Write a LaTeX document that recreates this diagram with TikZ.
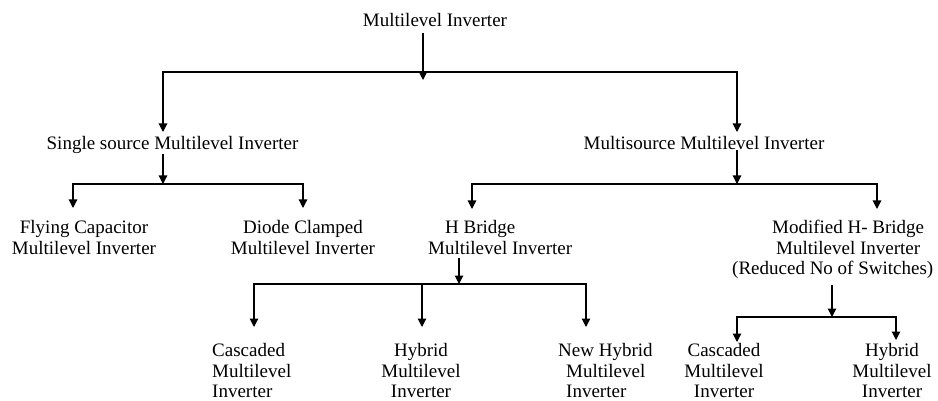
\documentclass[tikz,border=0pt]{standalone}
\usepackage{fontspec}
\setmainfont{Liberation Serif}
\usetikzlibrary{arrows.meta}
\begin{document}
\begin{tikzpicture}[x=1pt,y=-1pt,
  lbl/.style={inner sep=0pt, font=\fontsize{19}{20.7}\selectfont},
  ln/.style={line width=1.2pt},
  bar/.style={ln,line cap=rect},
  arr/.style={ln,-{Triangle[width=8.5pt,length=8.5pt]}}]
\useasboundingbox (0,0) rectangle (938,401);

% labels
\node[lbl,anchor=north] (top) at (435,13) {Multilevel Inverter};
\node[lbl,anchor=north] (ss) at (172.5,136) {Single source Multilevel Inverter};
\node[lbl,anchor=north] (ms) at (704,136) {Multisource Multilevel Inverter};
\node[lbl,anchor=north,align=center] (fc) at (84,220) {Flying Capacitor\\Multilevel Inverter};
\node[lbl,anchor=north,align=center] (dc) at (303,220) {Diode Clamped\\Multilevel Inverter};
\node[lbl,anchor=north west,align=left] (hb) at (428,220) {\hspace*{17pt}H Bridge\\Multilevel Inverter};
\node[lbl,anchor=north west,align=left] (mh) at (732,220) {\hspace*{40pt}Modified H- Bridge\\\hspace*{44pt}Multilevel Inverter\\(Reduced No of Switches)};
\node[lbl,anchor=north west,align=left] (c1) at (212,343) {Cascaded\\Multilevel\\Inverter};
\node[lbl,anchor=north,align=center] (h1) at (421,343) {Hybrid\\Multilevel\\Inverter};
\node[lbl,anchor=north west,align=left] (nh) at (558,343) {New Hybrid\\\hspace*{8pt}Multilevel\\\hspace*{8pt}Inverter};
\node[lbl,anchor=north,align=center] (c2) at (724,343) {Cascaded\\Multilevel\\Inverter};
\node[lbl,anchor=north,align=center] (h2) at (892,343) {Hybrid\\Multilevel\\Inverter};

% junction points
\coordinate (j0) at (423,80);
\coordinate (a1l) at (163,72); \coordinate (a1r) at (737,72);
\coordinate (b1) at (163,184); \coordinate (b1l) at (73,184); \coordinate (b1r) at (303,184);
\coordinate (b2) at (737,184); \coordinate (b2l) at (472,184); \coordinate (b2r) at (877,184);
\coordinate (c0) at (459,284); \coordinate (cl) at (254,284); \coordinate (cm) at (422,284); \coordinate (cr) at (586,284);
\coordinate (d0) at (832,317); \coordinate (dl) at (737,317); \coordinate (dr) at (896,317);

% level 1
\draw[bar] (a1l) -- (a1r);
\draw[arr] ([yshift=-6pt]top.south -| j0) -- (j0);
\draw[arr] (a1l) -- ([yshift=4pt]ss.north -| a1l);
\draw[arr] (a1r) -- ([yshift=4pt]ms.north -| a1r);

% single source
\draw[arr] (ss.south -| b1) -- (b1);
\draw[bar] (b1l) -- (b1r);
\draw[arr] (b1l) -- ([yshift=12pt]fc.north -| b1l);
\draw[arr] (b1r) -- ([yshift=12pt]dc.north -| b1r);

% multisource
\draw[arr] (ms.south -| b2) -- (b2);
\draw[bar] (b2l) -- (b2r);
\draw[arr] (b2l) -- ([yshift=11pt]hb.north -| b2l);
\draw[arr] (b2r) -- ([yshift=11pt]mh.north -| b2r);

% H bridge
\draw[arr] ([yshift=-4pt]hb.south -| c0) -- (c0);
\draw[bar] (cl) -- (cr);
\draw[arr] (cl) -- ([yshift=16pt]c1.north -| cl);
\draw[arr] (cm) -- ([yshift=16pt]h1.north -| cm);
\draw[arr] (cr) -- ([yshift=16pt]nh.north -| cr);

% modified H bridge
\draw[arr] ([yshift=-6pt]mh.south -| d0) -- (d0);
\draw[bar] (dl) -- (dr);
\draw[arr] (dl) -- ([yshift=1pt]c2.north -| dl);
\draw[arr] (dr) -- ([yshift=3pt]h2.north -| dr);
\end{tikzpicture}
\end{document}
